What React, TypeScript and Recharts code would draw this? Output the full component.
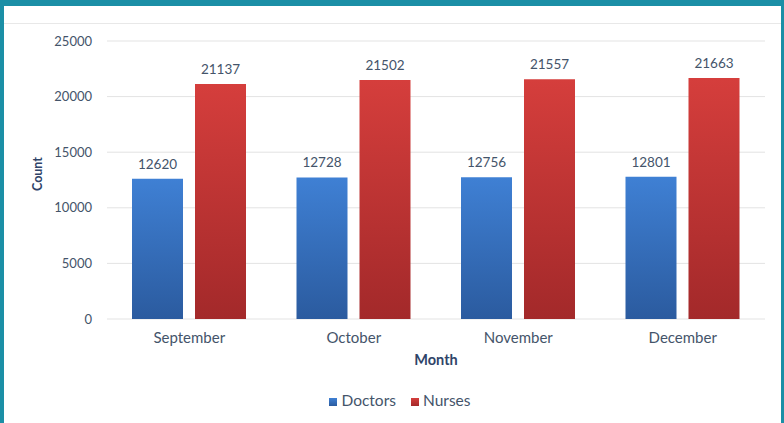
import React from "react";
import { BarChart, Bar, XAxis, YAxis, CartesianGrid, Legend, LabelList } from "recharts";

const months = ["September", "October", "November", "December"];
const doctors = [12620, 12728, 12756, 12801];
const nurses = [21137, 21502, 21557, 21663];
const yTicks = [0, 5000, 10000, 15000, 20000, 25000];

const data = months.map((m, i) => ({ month: m, Doctors: doctors[i], Nurses: nurses[i] }));

const FONT = "Lato, 'Open Sans', sans-serif";
const TEXT = "#44546a";
const TITLE = "#2f4468";

const CountLabel = (props: any) => {
  const vb = props.viewBox || { x: 0, y: 41, width: 107, height: 278 };
  const cx = vb.x + 37;
  const cy = vb.y + vb.height / 2 - 6;
  return (
    <text
      x={cx}
      y={cy}
      transform={`rotate(-90 ${cx} ${cy})`}
      textAnchor="middle"
      dominantBaseline="central"
      fill={TITLE}
      fontSize={12.5}
      fontWeight={700}
      fontFamily={FONT}
    >
      Count
    </text>
  );
};

export default function App() {
  return (
    <div
      style={{
        position: "fixed",
        left: 0,
        top: 0,
        width: 784,
        height: 423,
        background: "#ffffff",
        boxSizing: "border-box",
        borderTop: "6px solid #1b8fa6",
        borderLeft: "4px solid #1b8fa6",
        borderRight: "3px solid #1b8fa6",
        fontFamily: FONT,
        overflow: "hidden",
      }}
    >
      <div style={{ position: "absolute", left: 0, right: 0, top: 17, height: 1, background: "#e8e8e8" }} />
      <div style={{ position: "absolute", left: -4, top: -6 }}>
        <BarChart
          width={784}
          height={423}
          data={data}
          margin={{ top: 41, right: 19, left: 0, bottom: 14 }}
          barCategoryGap={25}
          barGap={12}
        >
          <defs>
            <linearGradient id="gBlue" x1="0" y1="0" x2="0" y2="1">
              <stop offset="0%" stopColor="#3f80d4" />
              <stop offset="100%" stopColor="#2b5b9f" />
            </linearGradient>
            <linearGradient id="gRed" x1="0" y1="0" x2="0" y2="1">
              <stop offset="0%" stopColor="#d53e3c" />
              <stop offset="100%" stopColor="#a3292a" />
            </linearGradient>
          </defs>
          <CartesianGrid vertical={false} stroke="#e3e3e3" />
          <XAxis
            dataKey="month"
            axisLine={false}
            tickLine={false}
            tickMargin={7}
            height={72}
            tick={{ fill: TEXT, fontSize: 15, fontFamily: FONT }}
            label={{ value: "Month", position: "insideBottom", offset: 26, fill: TITLE, fontSize: 14.5, fontWeight: 700, fontFamily: FONT }}
          />
          <YAxis
            width={107}
            domain={[0, 25000]}
            ticks={yTicks}
            axisLine={false}
            tickLine={false}
            tickMargin={9}
            tick={{ fill: TEXT, fontSize: 13, fontFamily: FONT }}
            label={<CountLabel />}
          />
          <Legend
            verticalAlign="bottom"
            align="center"
            iconType="square"
            iconSize={8}
            wrapperStyle={{ fontSize: 15.5, fontFamily: FONT, color: TEXT, paddingLeft: 25 }}
            formatter={(v: string) => <span style={{ color: TEXT, paddingRight: 5 }}>{v}</span>}
          />
          <Bar dataKey="Doctors" fill="url(#gBlue)" isAnimationActive={false} legendType="square">
            <LabelList dataKey="Doctors" position="top" offset={10} fill={TEXT} fontSize={13.5} fontFamily={FONT} />
          </Bar>
          <Bar dataKey="Nurses" fill="url(#gRed)" isAnimationActive={false} legendType="square">
            <LabelList dataKey="Nurses" position="top" offset={10} fill={TEXT} fontSize={13.5} fontFamily={FONT} />
          </Bar>
        </BarChart>
      </div>
    </div>
  );
}
